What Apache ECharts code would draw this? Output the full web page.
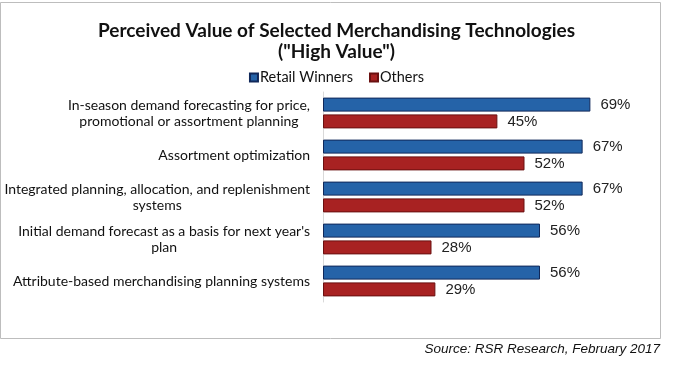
<!DOCTYPE html>
<html>
<head>
<meta charset="utf-8">
<script src="https://cdn.jsdelivr.net/npm/echarts@6/dist/echarts.min.js"></script>
<style>
html,body{margin:0;padding:0;background:#fff;}
#chart{width:673px;height:371px;}
</style>
</head>
<body>
<div id="chart"></div>
<script>
const categories = [
  "In-season demand forecasting for price,\npromotional or assortment planning",
  "Assortment optimization",
  "Integrated planning, allocation, and replenishment\nsystems",
  "Initial demand forecast as a basis for next year's\nplan",
  "Attribute-based merchandising planning systems"
];
const retailWinners = [69, 67, 67, 56, 56];
const others = [45, 52, 52, 28, 29];
const seriesNames = ["Retail Winners", "Others"];

const chart = echarts.init(document.getElementById('chart'));
const labelFont = 'Lato, "Open Sans", sans-serif';
chart.setOption({
  animation: false,
  backgroundColor: '#fff',
  title: {
    text: 'Perceived Value of Selected Merchandising Technologies\n("High Value")',
    left: 'center',
    top: 15,
    textStyle: { fontFamily: labelFont, fontWeight: 'bold', fontSize: 19, lineHeight: 21, color: '#111' }
  },
  legend: {
    data: seriesNames,
    top: 65,
    left: 'center',
    itemWidth: 8,
    itemHeight: 8,
    itemGap: 16,
    icon: 'rect',
    textStyle: { fontFamily: labelFont, fontSize: 14.5, color: '#111', padding: [0, 0, 0, -3] }
  },
  grid: { left: 323, top: 92, width: 310, height: 210, containLabel: false },
  xAxis: {
    type: 'value', min: 0, max: 80,
    show: false
  },
  yAxis: {
    type: 'category',
    data: categories,
    inverse: true,
    axisLine: { show: true, lineStyle: { color: '#d9d9d9', width: 1 } },
    axisTick: { show: false },
    axisLabel: {
      margin: 13,
      color: '#111',
      formatter: v => v.split('\n').map(l => '{c|' + l + '}').join('\n'),
      rich: { c: { align: 'center', fontFamily: labelFont, fontSize: 14, lineHeight: 16, color: '#111' } }
    }
  },
  series: [
    {
      name: seriesNames[0], type: 'bar', data: retailWinners,
      barWidth: 14, barGap: '20%',
      itemStyle: { color: '#2563a8', borderColor: '#10285a', borderWidth: 1 },
      label: { show: true, position: 'right', distance: 10, formatter: '{c}%', fontFamily: '"Liberation Sans", Arial, sans-serif', fontSize: 15, color: '#222' }
    },
    {
      name: seriesNames[1], type: 'bar', data: others,
      barWidth: 14, barGap: '20%',
      itemStyle: { color: '#a82222', borderColor: '#6a1010', borderWidth: 1 },
      label: { show: true, position: 'right', distance: 10, formatter: '{c}%', fontFamily: '"Liberation Sans", Arial, sans-serif', fontSize: 15, color: '#222' }
    }
  ],
  graphic: [
    { type: 'rect', shape: { x: 0.5, y: 2.5, width: 660, height: 336 }, style: { fill: 'none', stroke: '#bdbdbd', lineWidth: 1 }, z: -1 },
    { type: 'text', right: 13, top: 342, style: { text: 'Source: RSR Research, February 2017', font: 'italic 13.5px "Liberation Sans", Arial, sans-serif', fill: '#111' } }
  ]
});
</script>
</body>
</html>
